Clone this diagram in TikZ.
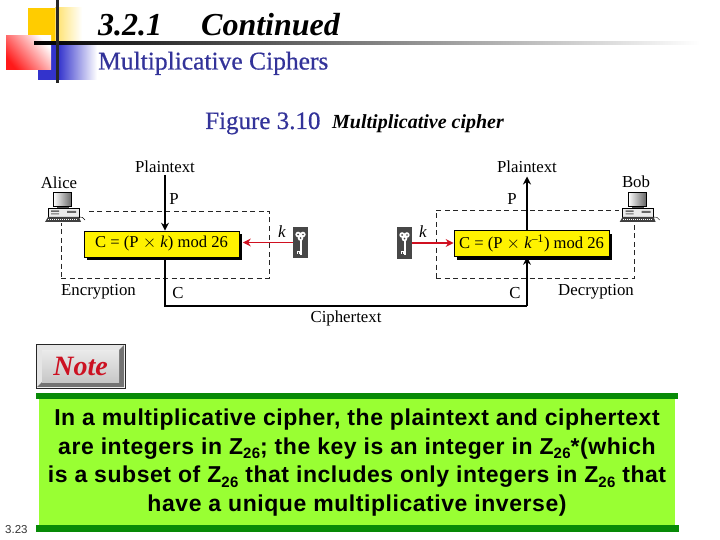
\documentclass[tikz,border=0pt]{standalone}
\usepackage{fontspec}
\usepackage{xcolor}
\usepackage{tikz}
\usetikzlibrary{shadows,arrows.meta}
\setmainfont{Liberation Serif}
\newfontfamily\headfont[FakeBold=0.6]{Liberation Serif}
\newfontfamily\notefont[LetterSpace=2.4]{Liberation Sans}
\newfontfamily\pagefont{Liberation Sans}
\definecolor{slideblue}{HTML}{333399}
\definecolor{barblue}{HTML}{3333CC}
\definecolor{baryellow}{HTML}{FFCC00}
\definecolor{notegreen}{HTML}{99FF33}
\definecolor{bargreen}{HTML}{078A07}
\definecolor{notered}{HTML}{CC1122}
\definecolor{keyred}{HTML}{D01020}
\newcommand{\px}[1]{\fontsize{#1}{#1}\selectfont}
\newcommand{\zring}{Z\raisebox{-4.5pt}{\px{15}26}}

\begin{document}
\begin{tikzpicture}[
    x=1pt, y=-1pt,
    label/.style={inner sep=0pt, font=\px{16.8}},
    keylabel/.style={inner sep=0pt, font=\px{17}\itshape},
    cipherbox/.style={draw=black, fill=yellow, line width=0.7pt, inner sep=0pt,
                      minimum width=155pt, minimum height=26pt, font=\px{16.6},
                      drop shadow={shadow xshift=3pt, shadow yshift=-3pt, fill=black, opacity=1}},
    area/.style={draw=black!85, dash pattern=on 5pt off 3.5pt, line width=0.7pt,
                 inner sep=0pt},
    keybox/.style={fill=black!72, inner sep=0pt, minimum width=15pt, minimum height=31pt},
    flow/.style={-{Stealth[length=8pt,width=8pt]}, line width=1.2pt},
    keyflow/.style={-{Stealth[length=8pt,width=8pt]}, line width=1.1pt, keyred},
    keyicon/.pic={
        \fill[white] (-2.4,-8) circle (2.8) (2.4,-8) circle (2.8) (0,-4.4) circle (2.8);
        \fill[black!72] (-2.4,-8) circle (0.9) (2.4,-8) circle (0.9) (0,-4.4) circle (0.9);
        \fill[white] (-0.9,-2.5) rectangle (1,12);
        \fill[white] (-4,8) rectangle (0,11);
        \fill[black!72] (-2.6,9) rectangle (-1.9,11);
    },
    computer/.pic={
        \fill[white] (-1,1) rectangle (41,33);
        \draw[line width=1pt, left color=white, right color=black!60] (8.5,2.5) rectangle (26.5,17);
        \fill[black!70] (12,17) rectangle (24,18.5);
        \draw[fill=black!8, line width=0.6pt] (3,18.5) rectangle (34,27);
        \fill[black!60] (6,20.5) rectangle (14,22) (6,23.5) rectangle (14,24.5) (22,21) rectangle (31,23);
        \fill[black!75] (3,27) -- (34,27) -- (36,32) -- (0,32) -- cycle;
        \draw[white, line width=0.4pt, dash pattern=on 1pt off 1pt] (3,29.5) -- (33,29.5);
        \draw[line width=0.4pt] (34,27) .. controls (37,26) and (38,28) .. (40,30);
    }
]
\useasboundingbox (0,0) rectangle (720,540);

% Corner decoration
\fill[baryellow] (28,8) rectangle (55,43);
\shade[left color=baryellow!60!white, right color=white] (55,8) rectangle (82,43);
\fill[barblue] (38,45) rectangle (58,80);
\shade[left color=barblue, right color=white] (58,45) rectangle (97,80);
\shade[left color=white, right color=red!90, shading angle=-50] (6,36) rectangle (51,70);
\shade[left color=black, middle color=black!45, right color=white] (34,42) rectangle (700,45);
\fill[black!85] (56,0) rectangle (59,83);

% Headings
\node[anchor=base west, inner sep=0pt, font=\px{32}\bfseries\itshape] (title) at (98,35.5)
    {3.2.1\hspace{39pt}Continued};
\node[anchor=base west, inner sep=0pt, slideblue, font=\headfont\px{25.5}] (subtitle) at (98,69.5)
    {Multiplicative Ciphers};
\node[anchor=base west, inner sep=0pt, slideblue, font=\headfont\px{25}] (figno) at (205,129)
    {Figure 3.10};
\node[anchor=base west, inner sep=0pt, font=\px{20}\bfseries\itshape] (figname) at (332,129)
    {Multiplicative cipher};

% Dashed areas
\node[area, minimum width=208pt, minimum height=67pt] (encarea) at (165,244.5) {};
\node[area, minimum width=198pt, minimum height=68pt] (decarea) at (535,244) {};

% Cipher boxes
\node[cipherbox] (enc) at (161.5,244) {C = (P $\times$ \textit{k}) mod 26};
\node[cipherbox] (dec) at (531.5,243.5) {C = (P $\times$ \textit{k}\textsuperscript{--1}) mod 26};

% Computers
\pic at (45,190) {computer};
\pic at (619.6,190) {computer};

% Labels
\node[label] (alice) at (59,183) {Alice};
\node[label] (bob) at (636,182) {Bob};
\node[label, anchor=south] (ptleft) at (165,172.5) {Plaintext};
\node[label, anchor=south] (ptright) at (527,172.5) {Plaintext};
\node[label] (pleft) at (174,199) {P};
\node[label] (pright) at (512,199) {P};
\node[label, anchor=west] (encname) at (61,292) {Encryption};
\node[label, anchor=east] (decname) at (634,292) {Decryption};
\node[label] (cleft) at (178,293) {C};
\node[label] (cright) at (515,293) {C};
\node[label] (ciphertext) at (346,318) {Ciphertext};
\node[keylabel] (kleft) at (282,232) {k};
\node[keylabel] (kright) at (423,232) {k};

% Keys
\node[keybox] (keyleft) at (300.5,242.5) {};
\node[keybox] (keyright) at (404.5,243) {};
\pic at (keyleft) {keyicon};
\pic at (keyright) {keyicon};

% Flows
\coordinate (bendleft) at (165,306);
\coordinate (bendright) at (527,306);
\draw[flow, shorten <=2.5pt] (ptleft.south) -- (ptleft.south |- enc.north);
\draw[line width=1.2pt] (enc.south -| bendleft) -- (bendleft) -- (bendright);
\draw[flow] (bendright) -- (dec.south -| bendright);
\draw[flow, shorten >=4pt] (dec.north -| ptright) -- (ptright.south);
\draw[keyflow, shorten >=3.5pt] (keyleft.west) -- (enc.east |- keyleft);
\draw[keyflow] (keyright.east) -- (dec.west |- keyright);

% Note button
\fill[black!10] (37,345) rectangle (124,387);
\fill[black!55] (124,345) -- (124,387) -- (37,387) -- (42,382) -- (119,382) -- (119,350) -- cycle;
\shade[top color=black!8, bottom color=black!22] (42,350) rectangle (119,382);
\node[draw=black!85, line width=0.9pt, inner sep=0pt, minimum width=89pt, minimum height=44pt] (notebtn) at (80.5,366) {};
\node[inner sep=0pt, notered, font=\px{28}\bfseries\itshape] (notename) at (80.5,366) {Note};

% Note panel
\fill[notegreen] (39,399) rectangle (675,525);
\node[inner sep=0pt, align=center,
      font=\notefont\bfseries\fontsize{23}{28.8}\selectfont] (notepanel) at (357,462.5)
    {In a multiplicative cipher, the plaintext and ciphertext\\
     are integers in \zring; the key is an integer in \zring*(which\\
     is a subset of \zring{} that includes only integers in \zring{} that\\
     have a unique multiplicative inverse)};
\fill[bargreen] (36,393) rectangle (678,399);
\fill[bargreen] (36,525) rectangle (679,532);

\node[anchor=base west, inner sep=0pt, black!80, font=\pagefont\px{11.5}] (pagenum) at (5,533) {3.23};

\end{tikzpicture}
\end{document}
